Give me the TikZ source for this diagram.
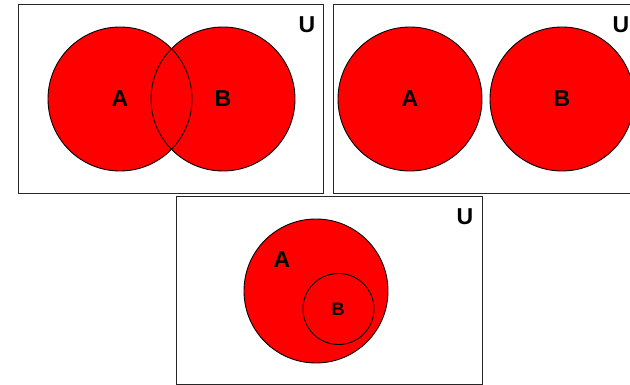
\documentclass[tikz,border=0pt]{standalone}
\usepackage{fontspec}
\setmainfont{Liberation Sans}
\tikzset{
  setfill/.style={fill={rgb,255:red,255;green,0;blue,0}},
  setline/.style={draw=black,line width=0.9pt},
  frame/.style={draw=black!85,line width=0.9pt},
  setlabel/.style={inner sep=0pt,font=\bfseries\fontsize{23}{23}\selectfont},
  smalllabel/.style={inner sep=0pt,font=\bfseries\fontsize{18}{18}\selectfont}
}
\begin{document}
\begin{tikzpicture}[x=1pt,y=-1pt]
		\useasboundingbox (0,0) rectangle (630,385);
		\clip (0,0) rectangle (630,385);
		% union
		\draw[frame] (18,4) rectangle (323,193);
		\fill[setfill] (120,99) circle (72);
		\fill[setfill] (223,99) circle (72);
		\draw[setline] (120,99) circle (72);
		\draw[setline] (223,99) circle (72);
		\node[setlabel] (a1) at (120,99) {A};
		\node[setlabel] (b1) at (223,99) {B};
		\node[setlabel] (u1) at (307,25) {U};
		% disjoint
		\draw[frame] (333,4) rectangle (640,193);
		\draw[setfill,setline] (410,99) circle (72);
		\draw[setfill,setline] (562,99) circle (72);
		\node[setlabel] (a2) at (410,99) {A};
		\node[setlabel] (b2) at (562,99) {B};
		\node[setlabel] (u2) at (621,25) {U};
		% subset
		\draw[frame] (176,196) rectangle (482,384);
		\draw[setfill,setline] (316,291) circle (72);
		\draw[setline] (338.5,309) circle (35.5);
		\node[setlabel] (a3) at (282,260) {A};
		\node[smalllabel] (b3) at (338,309) {B};
		\node[setlabel] (u3) at (465,217) {U};
\end{tikzpicture}
\end{document}
